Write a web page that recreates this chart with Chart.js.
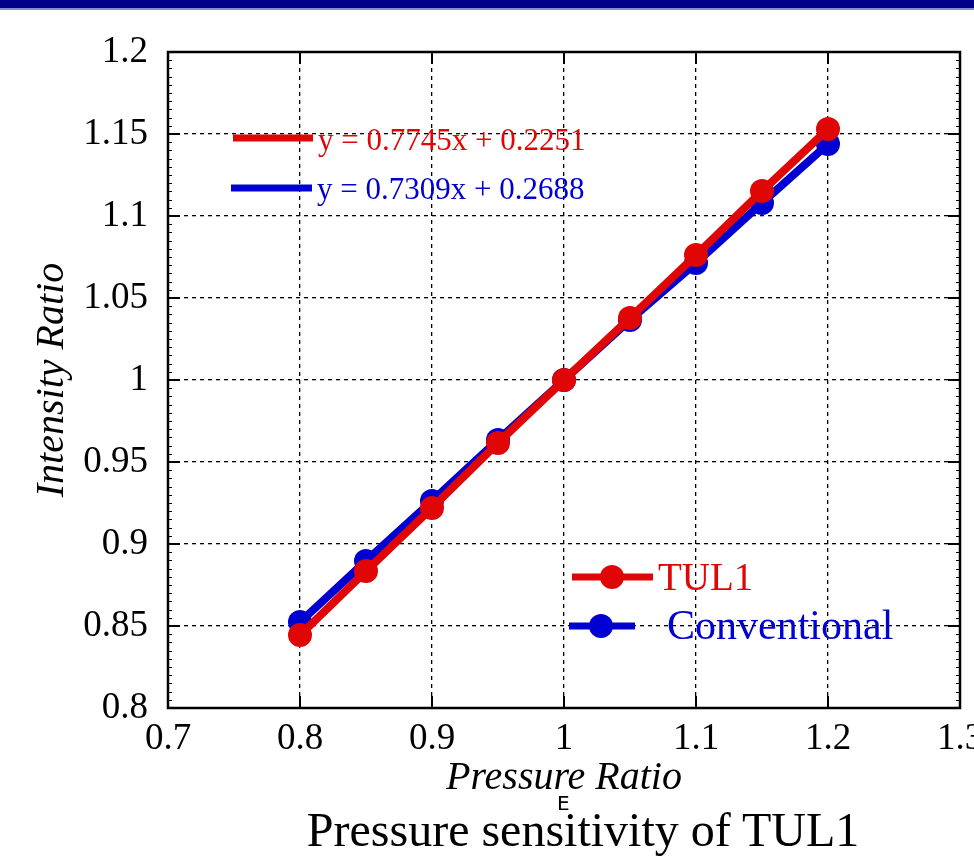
<!DOCTYPE html>
<html>
<head>
<meta charset="utf-8">
<script src="https://cdn.jsdelivr.net/npm/chart.js@4.4.0/dist/chart.umd.min.js"></script>
<style>
  html, body { margin: 0; padding: 0; background: #fff; overflow: hidden; width: 974px; height: 857px; }
  #wrap { position: relative; width: 1000px; height: 857px; }
  #topbar { position: absolute; left: 0; top: 0; width: 1000px; height: 8px; background: #00008c; border-bottom: 2px solid #8a8ac8; z-index: 2; }
  #title { position: absolute; left: 0; width: 1166px; top: 802px; text-align: center; font-family: "Liberation Serif", serif; font-size: 48px; color: #000; white-space: nowrap; }
  #mark { position: absolute; left: 557px; top: 791px; font-family: "DejaVu Sans", sans-serif; font-size: 20px; color: #000; }
</style>
</head>
<body>
<div id="wrap">
  <div id="topbar"></div>
  <canvas id="myChart" width="1000" height="857"></canvas>
  <div id="mark">E</div>
  <div id="title">Pressure sensitivity of TUL1</div>
</div>
<script>
// valeurs
const pressureRatio = [0.8, 0.85, 0.9, 0.95, 1.0, 1.05, 1.1, 1.15, 1.2];
const tul1 = [0.8445, 0.8835, 0.922, 0.9616, 1.0, 1.0378, 1.0762, 1.1152, 1.153];
const conventional = [0.8524, 0.8896, 0.9262, 0.9634, 1.0, 1.0366, 1.0713, 1.1079, 1.1439];
const seriesNames = ['TUL1', 'Conventional'];
const fitLabels = ['y = 0.7745x + 0.2251', 'y = 0.7309x + 0.2688'];
const xTicks = [0.7, 0.8, 0.9, 1.0, 1.1, 1.2, 1.3];
const yTicks = [0.8, 0.85, 0.9, 0.95, 1.0, 1.05, 1.1, 1.15, 1.2];

const RED = '#e00606';
const BLUE = '#0000d2';
const SERIF = '"Liberation Serif", "Times New Roman", serif';

const fmt = v => String(Number(v.toFixed(3)));

// cadre complet + graduations vers l'intérieur (style gnuplot)
const framePlugin = {
    id: 'frame',
    beforeDatasetsDraw(chart) {
        const { ctx, chartArea: a, scales } = chart;
        ctx.save();
        ctx.strokeStyle = '#000';
        ctx.lineWidth = 1.2;
        // petites graduations gauche / droite
        for (let v = 0.8; v <= 1.2001; v += 0.005) {
            const y = Math.round(scales.y.getPixelForValue(v)) + 0.5;
            ctx.beginPath();
            ctx.moveTo(a.left, y); ctx.lineTo(a.left + 4, y);
            ctx.moveTo(a.right, y); ctx.lineTo(a.right - 4, y);
            ctx.stroke();
        }
        ctx.lineWidth = 2;
        yTicks.forEach(v => {
            const y = scales.y.getPixelForValue(v);
            ctx.beginPath();
            ctx.moveTo(a.left, y); ctx.lineTo(a.left + 12, y);
            ctx.moveTo(a.right, y); ctx.lineTo(a.right - 12, y);
            ctx.stroke();
        });
        xTicks.forEach(v => {
            const x = scales.x.getPixelForValue(v);
            ctx.beginPath();
            ctx.moveTo(x, a.top); ctx.lineTo(x, a.top + 12);
            ctx.moveTo(x, a.bottom); ctx.lineTo(x, a.bottom - 12);
            ctx.stroke();
        });
        ctx.lineWidth = 2.5;
        ctx.strokeRect(a.left, a.top, a.right - a.left, a.bottom - a.top);
        ctx.restore();
    }
};

// légendes dans le graphique
const legendPlugin = {
    id: 'inLegend',
    afterDatasetsDraw(chart) {
        const { ctx } = chart;
        const ds = chart.data.datasets;
        ctx.save();
        ctx.textBaseline = 'middle';
        // équations des droites
        const eq = [[233, 313, 138, 142], [231, 312, 188, 191]];
        fitLabels.forEach((txt, i) => {
            const [x1, x2, yl, yt] = eq[i];
            ctx.strokeStyle = ds[i].borderColor;
            ctx.lineWidth = 7;
            ctx.beginPath(); ctx.moveTo(x1, yl); ctx.lineTo(x2, yl); ctx.stroke();
            ctx.fillStyle = ds[i].borderColor;
            ctx.font = '31px ' + SERIF;
            ctx.fillText(txt, x2 + 5, yt);
        });
        // séries
        const lg = [[572, 653, 612, 577, 658, 580, 39], [569, 635, 601, 626, 667, 628, 42]];
        seriesNames.forEach((name, i) => {
            const [x1, x2, xm, y, xt, yt, fs] = lg[i];
            ctx.strokeStyle = ds[i].borderColor;
            ctx.lineWidth = 7;
            ctx.beginPath(); ctx.moveTo(x1, y); ctx.lineTo(x2, y); ctx.stroke();
            ctx.fillStyle = ds[i].borderColor;
            ctx.beginPath(); ctx.arc(xm, y, 12, 0, Math.PI * 2); ctx.fill();
            ctx.font = fs + 'px ' + SERIF;
            ctx.fillText(name, xt, yt);
        });
        ctx.restore();
    }
};

const gridStyle = {
    color: '#000',
    lineWidth: 1.3,
    drawTicks: false
};

const ctx = document.getElementById('myChart').getContext('2d');
new Chart(ctx, {
    type: 'line',
    data: {
        datasets: [
            {
                label: seriesNames[0],
                data: pressureRatio.map((x, i) => ({ x: x, y: tul1[i] })),
                borderColor: RED,
                backgroundColor: RED,
                borderWidth: 8,
                pointRadius: 12,
                pointBorderWidth: 0,
                tension: 0
            },
            {
                label: seriesNames[1],
                data: pressureRatio.map((x, i) => ({ x: x, y: conventional[i] })),
                borderColor: BLUE,
                backgroundColor: BLUE,
                borderWidth: 8,
                pointRadius: 12,
                pointBorderWidth: 0,
                tension: 0
            }
        ]
    },
    options: {
        responsive: false,
        animation: false,
        events: [],
        layout: { padding: { top: 52, right: 40, bottom: 53, left: 0 } },
        plugins: {
            legend: { display: false },
            tooltip: { enabled: false }
        },
        scales: {
            x: {
                type: 'linear',
                min: 0.7,
                max: 1.3,
                afterBuildTicks: s => { s.ticks = xTicks.map(v => ({ value: v })); },
                afterFit: s => { s.height = 96; },
                grid: gridStyle,
                border: { display: false, dash: [4, 4] },
                ticks: {
                    color: '#000',
                    font: { family: SERIF, size: 37 },
                    padding: 9,
                    maxRotation: 0,
                    autoSkip: false,
                    callback: v => fmt(v)
                },
                title: {
                    display: true,
                    text: 'Pressure Ratio',
                    color: '#000',
                    font: { family: SERIF, size: 40, style: 'italic' },
                    padding: { top: 0, bottom: 2 }
                }
            },
            y: {
                min: 0.8,
                max: 1.2,
                afterBuildTicks: s => { s.ticks = yTicks.map(v => ({ value: v })); },
                afterFit: s => { s.width = 168; },
                grid: gridStyle,
                border: { display: false, dash: [4, 4] },
                ticks: {
                    color: '#000',
                    font: { family: SERIF, size: 37 },
                    padding: 20,
                    autoSkip: false,
                    callback: v => fmt(v)
                },
                title: {
                    display: true,
                    text: 'Intensity Ratio',
                    color: '#000',
                    font: { family: SERIF, size: 40, style: 'italic' },
                    padding: { top: 28, bottom: 0 }
                }
            }
        }
    },
    plugins: [framePlugin, legendPlugin]
});
</script>
</body>
</html>
